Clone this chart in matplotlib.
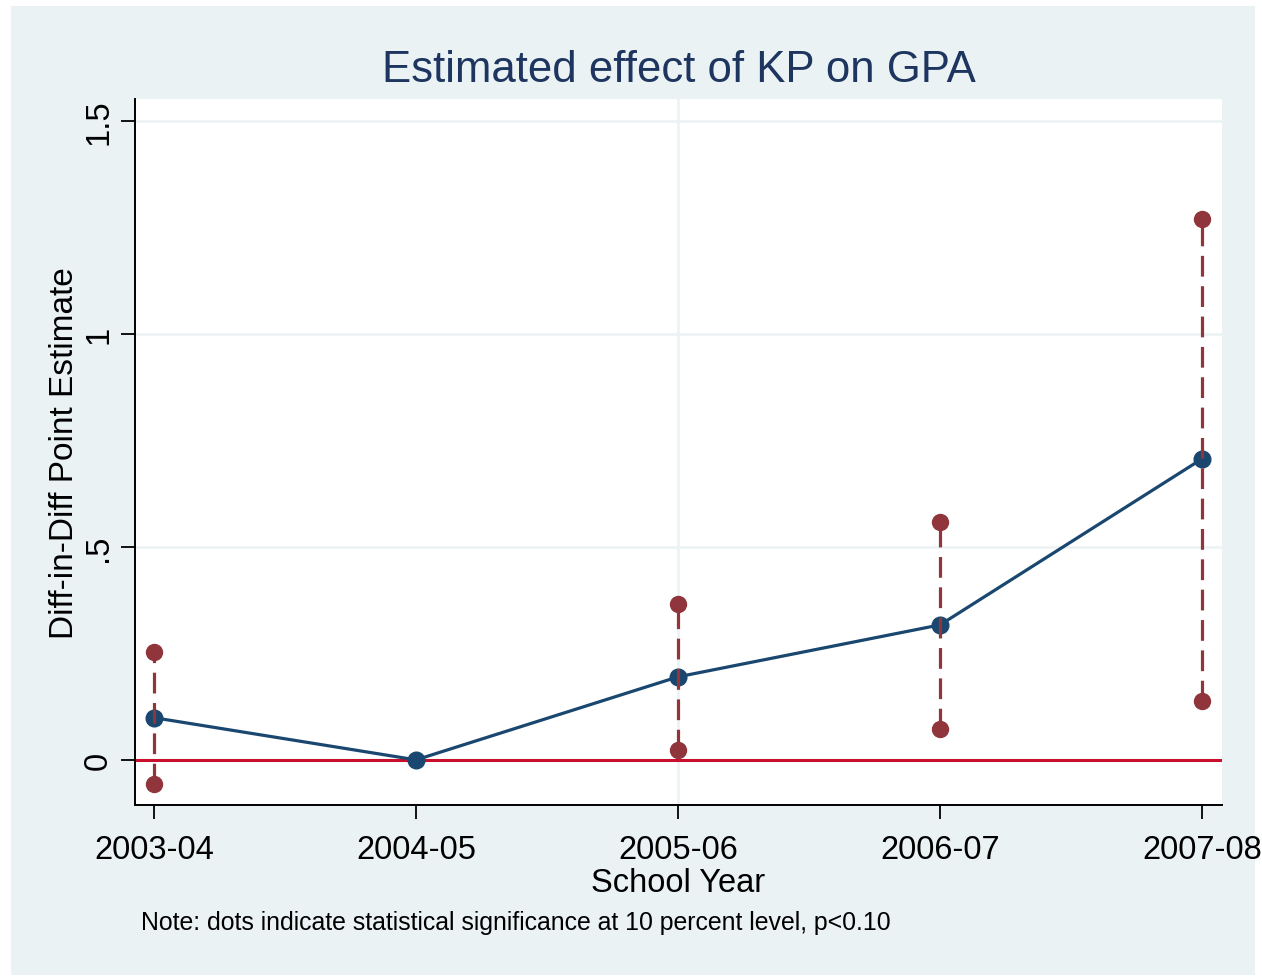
import matplotlib
matplotlib.use("Agg")
import matplotlib.pyplot as plt
from matplotlib.patches import Rectangle

years = ["2003-04", "2004-05", "2005-06", "2006-07", "2007-08"]
estimate = [0.099, 0.0, 0.195, 0.317, 0.707]
ci_years = ["2003-04", "2005-06", "2006-07", "2007-08"]
ci_upper = [0.254, 0.366, 0.559, 1.270]
ci_lower = [-0.056, 0.023, 0.073, 0.138]
yticks = [0, 0.5, 1, 1.5]
ytick_labels = ["0", ".5", "1", "1.5"]

plt.rcParams['font.family'] = ['Liberation Sans', 'DejaVu Sans']

W, H = 1262, 978
fig = plt.figure(figsize=(W / 100, H / 100), dpi=100, facecolor="white")
bg = "#EAF2F3"
fig.patches.append(Rectangle((11 / W, 1 - 976 / H), (1255 - 11) / W, (976 - 7) / H,
                             transform=fig.transFigure, facecolor=bg, edgecolor="none", zorder=-10))

ax = fig.add_axes([135 / W, 1 - 806 / H, (1222 - 135) / W, (806 - 100) / H])
ax.set_zorder(1)
ax.set_facecolor("white")

xpos = {y: i for i, y in enumerate(years)}
xs = [xpos[y] for y in years]
cx = [xpos[y] for y in ci_years]

# grid
for yv in yticks:
    ax.axhline(yv, color=bg, lw=1.8, zorder=0)
ax.axvline(xpos["2005-06"], color=bg, lw=1.8, zorder=0)

ax.axhline(0, color="#C8102E", lw=2.2, zorder=1)

navy = "#1A476F"
maroon = "#90353B"
ax.plot(xs, estimate, color=navy, lw=2.3, marker="o", markersize=12, zorder=3)
for x, lo, hi in zip(cx, ci_lower, ci_upper):
    ax.plot([x, x], [lo, hi], color=maroon, lw=2.3, dashes=(6.5, 3), zorder=4)
ax.plot(cx, ci_upper, linestyle="none", marker="o", markersize=11.5, color=maroon, zorder=5)
ax.plot(cx, ci_lower, linestyle="none", marker="o", markersize=11.5, color=maroon, zorder=5)

ax.set_xlim(-0.0725, 4.076)
ax.set_ylim(-0.106, 1.552)
ax.set_xticks(xs)
ax.set_xticklabels(years, fontsize=23.5)
ax.set_yticks(yticks)
ax.set_yticklabels(ytick_labels, fontsize=23.5, rotation=90, va="center")
ax.tick_params(axis="both", length=10, width=1.3, color="black")
ax.tick_params(axis="x", pad=11)
ax.tick_params(axis="y", pad=5)

for s in ["top", "right"]:
    ax.spines[s].set_visible(False)
for s in ["left", "bottom"]:
    ax.spines[s].set_linewidth(1.4)
    ax.spines[s].set_color("black")

ax.set_xlabel("School Year", fontsize=23.5, labelpad=1)
ax.set_ylabel("Diff-in-Diff Point Estimate", fontsize=24, labelpad=2)

fig.text(678.5 / W, 1 - 70 / H, "Estimated effect of KP on GPA", fontsize=31.5,
         color="#1E3560", ha="center", va="center")
fig.text(141 / W, 1 - 923 / H,
         "Note: dots indicate statistical significance at 10 percent level, p<0.10",
         fontsize=17.9, ha="left", va="center")

fig.savefig("out.png", dpi=100, facecolor="white")
